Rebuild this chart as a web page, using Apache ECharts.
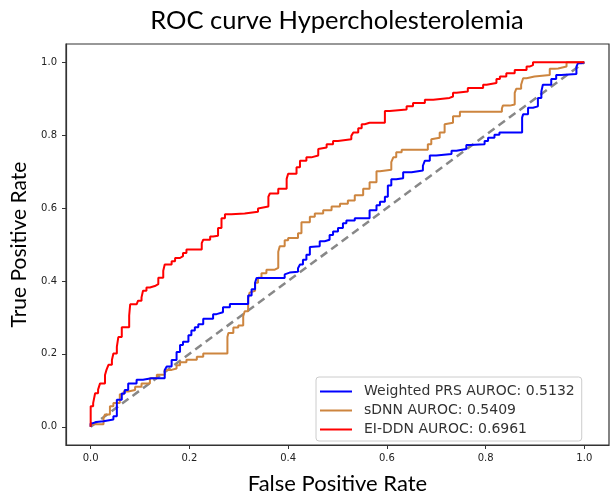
<!DOCTYPE html>
<html>
<head>
<meta charset="utf-8">
<script src="https://cdn.jsdelivr.net/npm/echarts@6/dist/echarts.min.js"></script>
<style>html,body{margin:0;padding:0;background:#fff}#c{width:610px;height:500px}</style>
</head>
<body>
<div id="c"></div>
<script>
const tickValues = [0, 0.2, 0.4, 0.6, 0.8, 1.0];
const seriesNames = ['Weighted PRS AUROC: 0.5132', 'sDNN AUROC: 0.5409', 'EI-DDN AUROC: 0.6961'];

const prsFpr = [0,0.005,0.011,0.026,0.046,0.053,0.053,0.063,0.069,0.076,0.093,0.106,0.123,0.150,0.154,0.164,0.174,0.181,0.187,0.198,0.204,0.211,0.218,0.228,0.248,0.255,0.268,0.282,0.292,0.319,0.326,0.333,0.336,0.346,0.393,0.397,0.403,0.420,0.424,0.430,0.437,0.444,0.447,0.464,0.474,0.484,0.491,0.501,0.511,0.518,0.535,0.565,0.565,0.579,0.586,0.596,0.602,0.609,0.619,0.633,0.650,0.673,0.677,0.687,0.700,0.731,0.741,0.761,0.768,0.798,0.805,0.818,0.828,0.842,0.874,0.876,0.886,0.896,0.906,0.913,0.916,0.933,0.943,0.953,0.984,0.987,0.994,1.0];
const prsTpr = [0,0.010,0.013,0.015,0.020,0.029,0.056,0.074,0.091,0.101,0.119,0.129,0.133,0.133,0.156,0.165,0.183,0.205,0.224,0.233,0.251,0.264,0.273,0.281,0.296,0.309,0.314,0.328,0.337,0.337,0.360,0.377,0.395,0.408,0.408,0.418,0.423,0.425,0.435,0.445,0.458,0.472,0.493,0.495,0.509,0.513,0.526,0.536,0.545,0.558,0.566,0.572,0.594,0.594,0.608,0.617,0.631,0.662,0.679,0.682,0.698,0.703,0.716,0.730,0.744,0.748,0.757,0.762,0.773,0.775,0.784,0.793,0.801,0.807,0.807,0.848,0.857,0.875,0.879,0.902,0.920,0.938,0.954,0.965,0.968,0.988,0.997,1.0];

const sdnnFpr = [0,0.002,0.026,0.029,0.039,0.046,0.059,0.067,0.076,0.090,0.103,0.120,0.134,0.150,0.164,0.174,0.181,0.194,0.215,0.228,0.238,0.277,0.279,0.289,0.299,0.309,0.312,0.319,0.322,0.326,0.333,0.339,0.346,0.356,0.373,0.380,0.383,0.393,0.400,0.420,0.427,0.427,0.444,0.454,0.471,0.488,0.505,0.521,0.535,0.552,0.565,0.579,0.586,0.609,0.613,0.619,0.630,0.633,0.683,0.690,0.694,0.707,0.717,0.721,0.734,0.748,0.758,0.833,0.835,0.849,0.859,0.862,0.872,0.876,0.883,0.899,0.930,0.940,0.947,0.964,0.970,1.0];
const sdnnTpr = [0,0.007,0.007,0.024,0.034,0.056,0.065,0.089,0.097,0.101,0.110,0.119,0.133,0.143,0.156,0.160,0.169,0.177,0.184,0.192,0.201,0.201,0.246,0.257,0.272,0.278,0.303,0.317,0.352,0.368,0.373,0.395,0.409,0.421,0.431,0.436,0.480,0.495,0.512,0.518,0.531,0.549,0.561,0.576,0.585,0.594,0.604,0.612,0.621,0.635,0.653,0.671,0.701,0.705,0.726,0.739,0.753,0.760,0.760,0.775,0.789,0.793,0.807,0.830,0.834,0.852,0.864,0.864,0.873,0.881,0.884,0.916,0.927,0.938,0.956,0.961,0.965,0.982,0.983,0.988,1.0,1.0];

const eiddnFpr = [0,0,0.005,0.009,0.015,0.019,0.029,0.032,0.036,0.043,0.046,0.053,0.056,0.063,0.066,0.078,0.080,0.093,0.096,0.103,0.106,0.113,0.120,0.130,0.137,0.147,0.150,0.164,0.171,0.181,0.187,0.194,0.201,0.225,0.228,0.242,0.248,0.258,0.265,0.272,0.285,0.312,0.316,0.339,0.343,0.360,0.363,0.380,0.387,0.397,0.400,0.405,0.417,0.424,0.437,0.447,0.461,0.464,0.478,0.491,0.501,0.528,0.532,0.542,0.549,0.555,0.565,0.596,0.606,0.640,0.653,0.677,0.694,0.727,0.734,0.741,0.764,0.795,0.802,0.822,0.829,0.842,0.859,0.883,0.889,0.896,0.904,1.0];
const eiddnTpr = [0,0.034,0.056,0.065,0.092,0.102,0.119,0.142,0.156,0.170,0.183,0.201,0.219,0.246,0.273,0.273,0.305,0.336,0.341,0.346,0.355,0.373,0.382,0.386,0.391,0.409,0.428,0.445,0.454,0.463,0.468,0.477,0.486,0.486,0.504,0.513,0.522,0.524,0.545,0.572,0.583,0.585,0.590,0.590,0.599,0.604,0.631,0.640,0.653,0.653,0.680,0.694,0.694,0.712,0.730,0.739,0.744,0.762,0.766,0.775,0.784,0.789,0.798,0.807,0.819,0.830,0.834,0.834,0.866,0.870,0.879,0.888,0.897,0.902,0.906,0.916,0.920,0.929,0.938,0.943,0.954,0.961,0.970,0.979,0.988,0.992,1.0,1.0];

const chanceFpr = [0, 1];
const chanceTpr = [0, 1];

function zip(a, b) { return a.map((v, i) => [v, b[i]]); }

const chart = echarts.init(document.getElementById('c'), null, { renderer: 'canvas' });
const tickFont = { fontFamily: 'DejaVu Sans', fontSize: 10, color: '#222' };
const axisCommon = {
  type: 'value', min: -0.05, max: 1.05,
  axisLine: { show: true, onZero: false, lineStyle: { color: '#333', width: 1.2 } },
  axisTick: { show: true, length: 4, inside: false, customValues: tickValues, lineStyle: { color: '#333' } },
  splitLine: { show: false }
};
chart.setOption({
  animation: false,
  backgroundColor: '#fff',
  grid: { left: 66, top: 44, width: 543, height: 405, show: true, borderColor: '#333', borderWidth: 1.2, containLabel: false },
  graphic: [
    { type: 'text', x: 337, y: 21, style: { text: 'ROC curve Hypercholesterolemia', fontFamily: 'Lato', fontSize: 25.5, fill: '#000', align: 'center', verticalAlign: 'middle' } }
  ],
  xAxis: Object.assign({}, axisCommon, {
    name: 'False Positive Rate', nameLocation: 'middle', nameGap: 28,
    nameTextStyle: { fontFamily: 'Lato', fontSize: 22, color: '#000' },
    axisLabel: Object.assign({ margin: 8, customValues: tickValues, formatter: v => v.toFixed(1) }, tickFont)
  }),
  yAxis: Object.assign({}, axisCommon, {
    name: 'True Positive Rate', nameLocation: 'middle', nameGap: 31,
    nameTextStyle: { fontFamily: 'Lato', fontSize: 21, color: '#000' },
    axisLabel: Object.assign({ margin: 9, customValues: tickValues, formatter: v => v.toFixed(1) }, tickFont)
  }),
  legend: {
    orient: 'vertical', left: 316, top: 377,
    data: seriesNames,
    icon: 'rect',
    itemWidth: 32, itemHeight: 2, itemGap: 0,
    padding: [5, 7, 2, 4],
    backgroundColor: '#fff', borderColor: '#ccc', borderWidth: 1, borderRadius: 3,
    textStyle: { fontFamily: 'DejaVu Sans', fontSize: 14, lineHeight: 19, color: '#333', padding: [0, 0, 0, 7] }
  },
  series: [
    { name: 'chance', type: 'line', data: zip(chanceFpr, chanceTpr), symbol: 'none', z: 1,
      lineStyle: { color: '#888', width: 2.5, type: [8, 5] } },
    { name: seriesNames[0], type: 'line', data: zip(prsFpr, prsTpr), symbol: 'none', step: 'start', z: 3,
      lineStyle: { color: '#0000ff', width: 2 }, itemStyle: { color: '#0000ff' } },
    { name: seriesNames[1], type: 'line', data: zip(sdnnFpr, sdnnTpr), symbol: 'none', step: 'start', z: 2,
      lineStyle: { color: '#cd853f', width: 2 }, itemStyle: { color: '#cd853f' } },
    { name: seriesNames[2], type: 'line', data: zip(eiddnFpr, eiddnTpr), symbol: 'none', step: 'start', z: 4,
      lineStyle: { color: '#ff0000', width: 2 }, itemStyle: { color: '#ff0000' } }
  ]
});
</script>
</body>
</html>
